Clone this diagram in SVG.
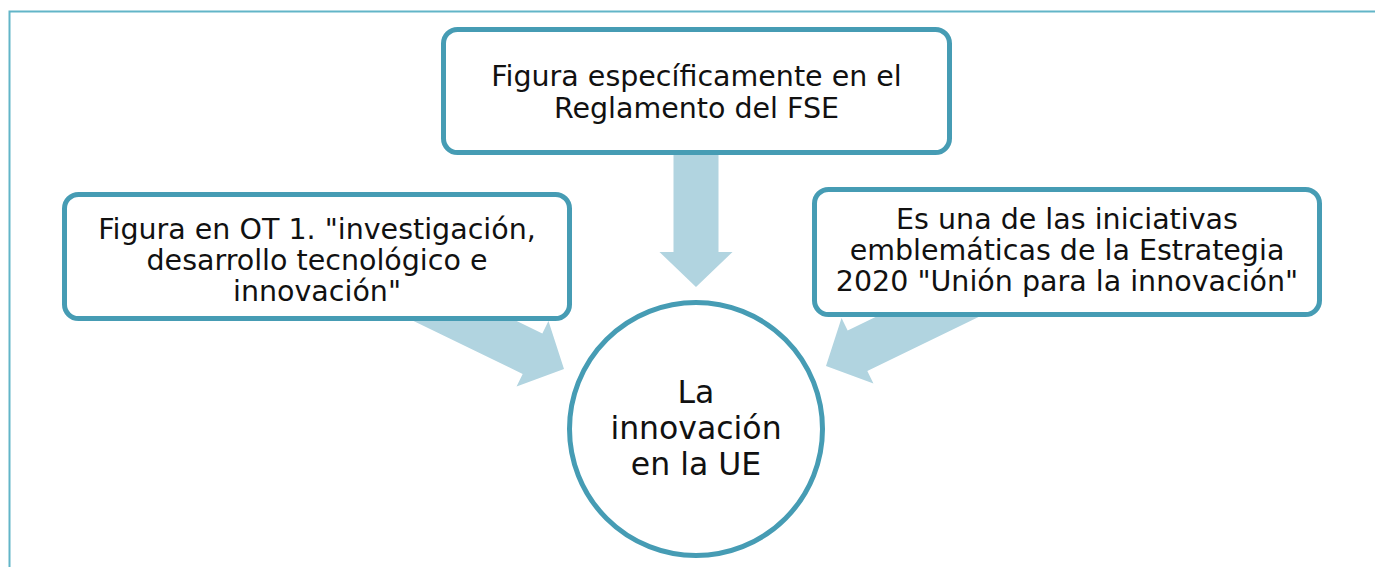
<svg xmlns="http://www.w3.org/2000/svg" width="1375" height="567" viewBox="0 0 1375 567">
<defs>
<style>
.frame{fill:none;stroke:#62b5c8;stroke-width:2}
.box{fill:#ffffff;stroke:#469cb4;stroke-width:5}
.arrow{fill:#b1d4e0;stroke:none}
.t{font-family:"DejaVu Sans","Liberation Sans",sans-serif;font-size:28.5px;fill:#111111;text-anchor:middle}
.tc{font-family:"DejaVu Sans","Liberation Sans",sans-serif;font-size:31.5px;fill:#111111;text-anchor:middle}
</style>
<path id="arr" d="M -185 -22.5 L -35 -22.5 L -35 -36.5 L 0 0 L -35 36.5 L -35 22.5 L -185 22.5 Z"/>
</defs>
<rect class="frame" x="9.5" y="11.5" width="1400" height="600"/>
<g id="connectors">
<use href="#arr" class="arrow" transform="translate(696,287) rotate(90)"/>
<use href="#arr" class="arrow" transform="translate(564,369) rotate(25.9)"/>
<use href="#arr" class="arrow" transform="translate(826,366) rotate(154.1)"/>
</g>
<g id="top">
<rect class="box" x="443.5" y="29.5" width="506" height="123" rx="14"/>
<text class="t" x="696.5" y="86">Figura específicamente en el</text>
<text class="t" x="696.5" y="118">Reglamento del FSE</text>
</g>
<g id="left">
<rect class="box" x="64.5" y="194.5" width="505" height="124" rx="14"/>
<text class="t" x="317" y="239">Figura en OT 1. "investigación,</text>
<text class="t" x="317" y="270">desarrollo tecnológico e</text>
<text class="t" x="317" y="301">innovación"</text>
</g>
<g id="right">
<rect class="box" x="814.5" y="189.5" width="505" height="125" rx="14"/>
<text class="t" x="1067" y="229">Es una de las iniciativas</text>
<text class="t" x="1067" y="260">emblemáticas de la Estrategia</text>
<text class="t" x="1067" y="291">2020 "Unión para la innovación"</text>
</g>
<g id="center">
<circle class="box" cx="696" cy="429" r="126.5"/>
<text class="tc" x="696" y="403">La</text>
<text class="tc" x="696" y="439">innovación</text>
<text class="tc" x="696" y="475">en la UE</text>
</g>
</svg>
